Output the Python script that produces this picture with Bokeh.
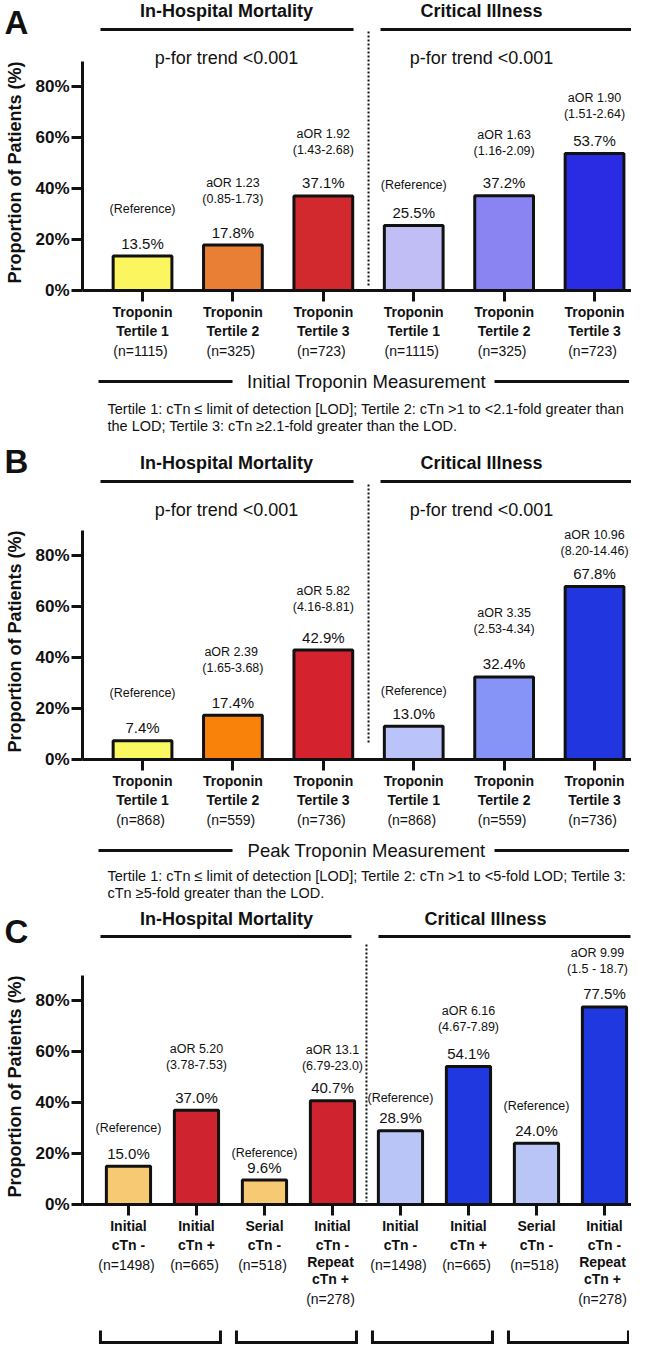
import math
from bokeh.plotting import figure
from bokeh.models import Range1d, FixedTicker, PrintfTickFormatter, LabelSet, ColumnDataSource
from bokeh.layouts import column, row
from bokeh.core.properties import value
from bokeh.embed import file_html
from bokeh.resources import INLINE

FONT = "Liberation Sans"
INK = "#111111"

# ---------------- data ----------------
groups = ["In-Hospital Mortality", "Critical Illness"]
trend_text = "p-for trend <0.001"
y_title = "Proportion of Patients (%)"

A_categories = ["Troponin\nTertile 1", "Troponin\nTertile 2", "Troponin\nTertile 3"] * 2
A_n = ["(n=1115)", "(n=325)", "(n=723)"] * 2
A_values = [13.5, 17.8, 37.1, 25.5, 37.2, 53.7]
A_notes = [["(Reference)"], ["aOR 1.23", "(0.85-1.73)"], ["aOR 1.92", "(1.43-2.68)"],
           ["(Reference)"], ["aOR 1.63", "(1.16-2.09)"], ["aOR 1.90", "(1.51-2.64)"]]
A_colors = ["#FBF65F", "#E97F35", "#D2292F", "#C1BEF6", "#8A83F2", "#2A2CE3"]
A_measure = "Initial Troponin Measurement"
A_footnote = ["Tertile 1: cTn \u2264 limit of detection [LOD]; Tertile 2: cTn >1 to <2.1-fold greater than",
              "the LOD; Tertile 3: cTn \u22652.1-fold greater than the LOD."]

B_categories = ["Troponin\nTertile 1", "Troponin\nTertile 2", "Troponin\nTertile 3"] * 2
B_n = ["(n=868)", "(n=559)", "(n=736)"] * 2
B_values = [7.4, 17.4, 42.9, 13.0, 32.4, 67.8]
B_notes = [["(Reference)"], ["aOR  2.39", "(1.65-3.68)"], ["aOR 5.82", "(4.16-8.81)"],
           ["(Reference)"], ["aOR 3.35", "(2.53-4.34)"], ["aOR 10.96", "(8.20-14.46)"]]
B_colors = ["#FAF961", "#F9820A", "#D4232F", "#BBC4FA", "#8594F6", "#2236DF"]
B_measure = "Peak Troponin Measurement"
B_footnote = ["Tertile 1: cTn \u2264 limit of detection [LOD]; Tertile 2: cTn >1 to <5-fold LOD; Tertile 3:",
              "cTn \u22655-fold greater than the LOD."]

C_categories = ["Initial\ncTn -", "Initial\ncTn +", "Serial\ncTn -", "Initial\ncTn -\nRepeat\ncTn +"] * 2
C_n = ["(n=1498)", "(n=665)", "(n=518)", "(n=278)"] * 2
C_values = [15.0, 37.0, 9.6, 40.7, 28.9, 54.1, 24.0, 77.5]
C_notes = [["(Reference)"], ["aOR 5.20", "(3.78-7.53)"], ["(Reference)"], ["aOR 13.1", "(6.79-23.0)"],
           ["(Reference)"], ["aOR 6.16", "(4.67-7.89)"], ["(Reference)"], ["aOR 9.99", "(1.5 - 18.7)"]]
C_colors = ["#F6C972", "#D02330", "#F6C972", "#D02330", "#B9C5F7", "#1F38E0", "#B9C5F7", "#1F38E0"]

# ---------------- layout (pixels) ----------------
PPY = 2.55          # px per percentage point
FW = 549            # frame width
LEFT = 80           # frame left edge on the canvas
STRIP = 32          # left strip holding panel letter and y title
AXB = 48            # space under the x axis for its tick labels
LINE = 16.8         # line step of the category labels

LAYOUTS = {
    "A": dict(x0=-0.664, ppu=90.4, frame_h=290, foot_h=96,
              header=280, hline=261, trend=233, div=(259, 3), letter=268, right_end=560,
              gaps=[34, 33, 33, 27, 32, 27], dx=[0] * 6, title=88, notes=(115, 132)),
    "B": dict(x0=-0.664, ppu=90.4, frame_h=322, foot_h=92,
              header=297, hline=278, trend=250, div=(275, 17), letter=298, right_end=560,
              gaps=[35, 34, 30, 22, 35, 23], dx=[0] * 6, title=88, notes=(113, 130)),
    "C": dict(x0=-0.676, ppu=68.0, frame_h=302, foot_h=89,
              header=286, hline=268, trend=None, div=(260, 3), letter=273, right_end=548,
              gaps=[25, 32, 14, 22, 20, 27, 24, 25], dx=[0] * 7 + [-7], title=None, notes=None),
}


def st(**kw):
    d = dict(text_font=value(FONT), text_color=INK, text_align="center", text_baseline="middle")
    d.update(kw)
    return d


def bare(w, h, xr, yr, left=0):
    f = figure(frame_width=w, frame_height=h, min_border_left=left, min_border_right=0,
               min_border_top=0, min_border_bottom=0, x_range=xr, y_range=yr,
               x_axis_location=None, y_axis_location=None,
               toolbar_location=None, tools="", output_backend="svg")
    f.outline_line_color = None
    f.grid.visible = False
    return f


def build(letter, cats, nlab, vals, notes, colors, measure, footnote, L, brackets=False):
    n = len(vals)
    idx = list(range(n))
    x0, ppu = L["x0"], L["ppu"]
    x1 = x0 + FW / ppu

    def X(px):
        return x0 + px / ppu

    def Y(px):
        return px / PPY

    div_idx = n / 2 - 0.5
    div_px = (div_idx - x0) * ppu
    fh = L["frame_h"]

    # ---- main plot ----
    p = figure(frame_width=FW, frame_height=fh, min_border_left=LEFT - STRIP, min_border_right=0,
               min_border_top=0, min_border_bottom=AXB,
               x_range=Range1d(x0, x1), y_range=Range1d(0, fh / PPY),
               toolbar_location=None, tools="", output_backend="svg")
    p.outline_line_color = None
    p.grid.visible = False

    ya = p.yaxis[0]
    ya.bounds = (0, 90)
    ya.ticker = FixedTicker(ticks=[0, 20, 40, 60, 80])
    ya.formatter = PrintfTickFormatter(format="%d%%")
    xa = p.xaxis[0]
    xa.ticker = FixedTicker(ticks=idx)
    xa.major_label_overrides = {i: "\n".join(c.split("\n")[:2]) for i, c in enumerate(cats)}
    for ax in (ya, xa):
        ax.axis_line_width = 3
        ax.axis_line_color = INK
        ax.major_tick_line_width = 3
        ax.major_tick_line_color = INK
        ax.major_tick_out = 11
        ax.major_tick_in = 0
        ax.minor_tick_line_color = None
        ax.major_label_text_font = FONT
        ax.major_label_text_font_style = "bold"
        ax.major_label_text_color = INK
        ax.major_label_standoff = 2
    ya.major_label_text_font_size = "17px"
    xa.major_label_text_font_size = "14px"

    src = ColumnDataSource(dict(x=idx, top=vals, color=colors,
                                pct=[f"{v:.1f}%" for v in vals]))
    p.vbar(x="x", top="top", bottom=0, width=0.65, fill_color="color",
           line_color=INK, line_width=3, source=src)
    p.add_layout(LabelSet(x="x", y="top", text="pct", y_offset=13, source=src,
                          **st(text_font_size="15px")))

    rx, ry, ro, rd, rt = [], [], [], [], []
    for i, lines in enumerate(notes):
        for k, t in enumerate(reversed(lines)):
            rx.append(i)
            ry.append(vals[i])
            ro.append(13 + L["gaps"][i] + 16 * k)
            rd.append(L["dx"][i])
            rt.append(t)
    p.add_layout(LabelSet(x="x", y="y", y_offset="o", x_offset="d", text="t",
                          source=ColumnDataSource(dict(x=rx, y=ry, o=ro, d=rd, t=rt)),
                          **st(text_font_size="12.5px")))

    right_c = (n - 1) * 0.75
    p.text(x=[X(144), right_c], y=[Y(L["header"])] * 2, text=groups,
           text_font_size="18px", text_font_style="bold", **st())
    p.segment(x0=[X(18), X(div_px + 12)], y0=[Y(L["hline"])] * 2,
              x1=[X(div_px - 15), X(L["right_end"])], y1=[Y(L["hline"])] * 2,
              line_width=3, line_color=INK)
    p.segment(x0=[div_idx], y0=[Y(L["div"][0])], x1=[div_idx], y1=[Y(L["div"][1])],
              line_width=2, line_dash="2 2", line_color=INK)
    if L["trend"] is not None:
        p.text(x=[X(144), right_c], y=[Y(L["trend"])] * 2, text=[trend_text] * 2,
               text_font_size="18px", **st())

    # ---- left strip: panel letter and y title (px above the x axis) ----
    s = bare(STRIP, fh + AXB, Range1d(0, STRIP), Range1d(-AXB, fh))
    s.text(x=[4], y=[L["letter"]], text=[letter], text_font_size="33px",
           text_font_style="bold", **st(text_align="left"))
    s.text(x=[14], y=[118], text=[y_title], angle=math.pi / 2, text_font_size="18px",
           text_font_style="bold", **st())

    # ---- footer under the axis (y = -px below the x axis) ----
    ft = bare(FW, L["foot_h"], Range1d(x0, x1), Range1d(-(AXB + L["foot_h"]), -AXB), left=LEFT)
    ex_x, ex_y, ex_t = [], [], []
    n_y = []
    for i, c in enumerate(cats):
        lines = c.split("\n")
        for j in range(2, len(lines)):
            ex_x.append(i)
            ex_y.append(-(21 + LINE * j))
            ex_t.append(lines[j])
        n_y.append(-(21 + LINE * (len(lines) - 1) + 20))
    if ex_t:
        ft.text(x=ex_x, y=ex_y, text=ex_t, text_font_size="14px", text_font_style="bold", **st())
    ft.text(x=idx, y=n_y, text=nlab, text_font_size="14px", **st())
    if measure is not None:
        ft.text(x=[div_idx], y=[-L["title"]], text=[measure], text_font_size="18.5px", **st())
        ft.segment(x0=[X(18), X(div_px + 128)], y0=[-L["title"]] * 2,
                   x1=[X(div_px - 134), X(560)], y1=[-L["title"]] * 2, line_width=3, line_color=INK)
        ft.text(x=[X(27)] * len(footnote), y=[-v for v in L["notes"]], text=footnote,
                text_font_size="14.5px", **st(text_align="left"))
    if brackets:
        xs, ys = [], []
        for a in range(0, n, 2):
            c = a + 0.5
            xl, xr = c - 60 / ppu, c + 60 / ppu
            xs.append([xl, xl, xr, xr])
            ys.append([-123, -135, -135, -123])
        ft.multi_line(xs=xs, ys=ys, line_width=3, line_color=INK, line_join="miter")
    return column(row(s, p, spacing=0), ft, spacing=0)


panA = build("A", A_categories, A_n, A_values, A_notes, A_colors, A_measure, A_footnote, LAYOUTS["A"])
panB = build("B", B_categories, B_n, B_values, B_notes, B_colors, B_measure, B_footnote, LAYOUTS["B"])
panC = build("C", C_categories, C_n, C_values, C_notes, C_colors, None, None, LAYOUTS["C"], brackets=True)

layout = column(panA, panB, panC, spacing=0)
open("out.html", "w").write(file_html(layout, INLINE))
